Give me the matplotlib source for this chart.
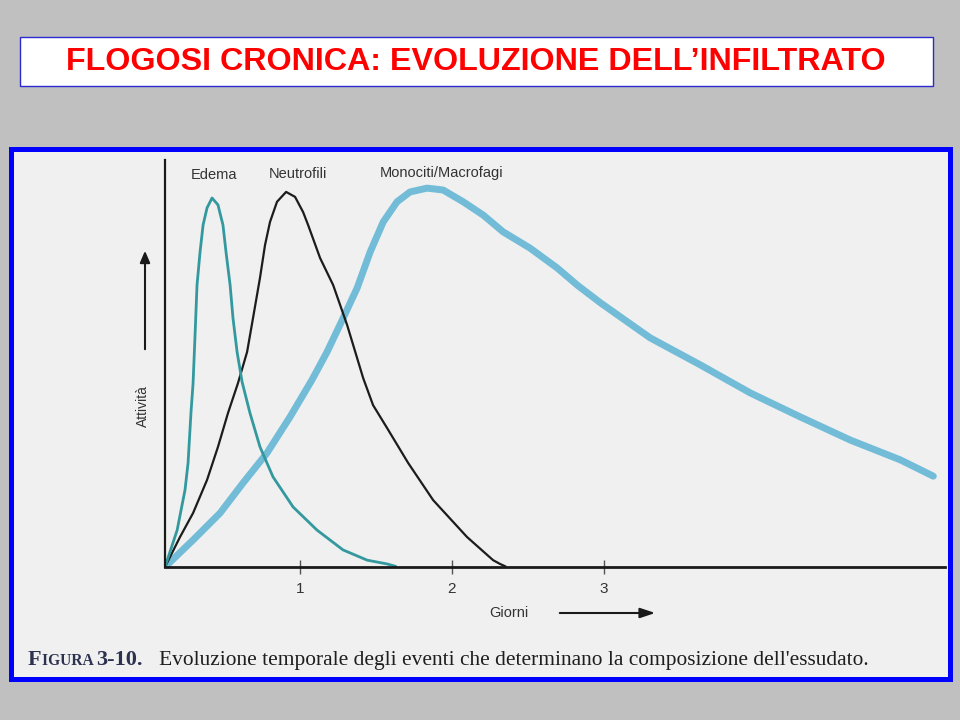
"""
plot.py - Flogosi cronica: evoluzione dell'infiltrato (Edema / Neutrofili / Monociti).
"""
import matplotlib
matplotlib.use("Agg")
import matplotlib.pyplot as plt
from matplotlib.patches import Rectangle, FancyArrowPatch

# valori: x in giorni, y = attività (picco monociti = 1)
EDEMA_X = [0.11, 0.19, 0.242, 0.262, 0.281, 0.295, 0.308, 0.321, 0.341, 0.361,
           0.387, 0.42, 0.459, 0.492, 0.512, 0.539, 0.558, 0.585, 0.618, 0.67,
           0.736, 0.822, 0.954, 1.112, 1.283, 1.442, 1.574, 1.627]
EDEMA_Y = [0.0, 0.097, 0.203, 0.274, 0.405, 0.484, 0.61, 0.742, 0.829, 0.90,
           0.945, 0.971, 0.953, 0.90, 0.829, 0.742, 0.655, 0.566, 0.487, 0.405,
           0.316, 0.237, 0.158, 0.097, 0.045, 0.018, 0.008, 0.002]

NEUTRO_X = [0.11, 0.209, 0.295, 0.387, 0.459, 0.525, 0.591, 0.651, 0.69, 0.736,
            0.769, 0.802, 0.848, 0.908, 0.967, 1.02, 1.053, 1.132, 1.218, 1.31,
            1.416, 1.481, 1.573, 1.712, 1.877, 2.10, 2.272, 2.318, 2.351]
NEUTRO_Y = [0.0, 0.079, 0.142, 0.229, 0.316, 0.405, 0.484, 0.566, 0.655, 0.761,
            0.847, 0.908, 0.961, 0.987, 0.974, 0.934, 0.90, 0.813, 0.742, 0.637,
            0.497, 0.426, 0.366, 0.274, 0.176, 0.079, 0.018, 0.008, 0.002]

MONO_X = [0.11, 0.295, 0.473, 0.624, 0.782, 0.934, 1.078, 1.178, 1.284, 1.376,
          1.462, 1.548, 1.639, 1.725, 1.837, 1.943, 2.075, 2.207, 2.338, 2.516,
          2.694, 2.826, 2.98, 3.307, 3.637, 3.967, 4.296, 4.626, 4.955, 5.173]
MONO_Y = [0.0, 0.071, 0.142, 0.221, 0.30, 0.395, 0.492, 0.566, 0.655, 0.734,
          0.829, 0.908, 0.961, 0.987, 0.997, 0.992, 0.961, 0.926, 0.882, 0.839,
          0.787, 0.742, 0.695, 0.603, 0.532, 0.458, 0.395, 0.334, 0.282, 0.239]

SERIES_NAMES = ["Edema", "Neutrofili", "Monociti/Macrofagi"]
TICKS = [1, 2, 3]
TICK_LABELS = ["1", "2", "3"]

W, H = 960, 720
SLIDE_BG = "#c0c0c0"
PANEL_BG = "#eff0ef"


def fx(px):
    return px / W


def fy(py):
    return 1 - py / H


def chain_text(fig, x, y, parts):
    """Scrive pezzi di testo uno dopo l'altro sulla stessa linea di base."""
    renderer = fig.canvas.get_renderer()
    for s, kw in parts:
        t = fig.text(fx(x), fy(y), s, va="baseline", ha="left", zorder=5, **kw)
        bb = t.get_window_extent(renderer=renderer)
        x += bb.width


def main():
    fig = plt.figure(figsize=(9.6, 7.2), dpi=100)
    fig.patch.set_facecolor(SLIDE_BG)

    # riquadro titolo
    fig.patches.append(Rectangle((fx(20), fy(86)), fx(913), 49 / H,
                                 transform=fig.transFigure, facecolor="white",
                                 edgecolor="#2a2ad0", linewidth=1.0,
                                 zorder=-2))
    fig.text(fx(476), fy(62), "FLOGOSI CRONICA: EVOLUZIONE DELL\u2019INFILTRATO",
             ha="center", va="center", color="#ff0000", fontsize=23.2,
             fontweight="bold", family="Liberation Sans")

    # riquadro della figura
    fig.patches.append(Rectangle((fx(11), fy(679)), fx(939), 530 / H,
                                 transform=fig.transFigure, facecolor=PANEL_BG,
                                 edgecolor="#0000ff", linewidth=3.6,
                                 zorder=-2))

    ax = fig.add_axes([fx(165), fy(567), fx(945 - 165), (567 - 160) / H])
    ax.set_zorder(2)
    ax.patch.set_alpha(0)

    ax.plot(MONO_X, MONO_Y, color="#72bcd8", linewidth=5.0,
            solid_capstyle="round", solid_joinstyle="round")
    ax.plot(NEUTRO_X, NEUTRO_Y, color="#1c1c1c", linewidth=1.6,
            solid_joinstyle="round")
    ax.plot(EDEMA_X, EDEMA_Y, color="#33999f", linewidth=2.0,
            solid_joinstyle="round")

    ax.set_xlim(0.11, 5.25)
    ax.set_ylim(0, 1.071)
    for side in ["top", "right"]:
        ax.spines[side].set_visible(False)
    ax.spines["bottom"].set_linewidth(2.0)
    ax.spines["bottom"].set_color("#1a1a1a")
    ax.spines["left"].set_linewidth(1.6)
    ax.spines["left"].set_color("#1a1a1a")
    ax.set_yticks([])
    ax.set_xticks(TICKS)
    ax.set_xticklabels(TICK_LABELS)
    ax.tick_params(axis="x", direction="inout", length=10, width=1.0,
                   color="#555555", labelsize=11, labelcolor="#333333", pad=6)
    for lab in ax.get_xticklabels():
        lab.set_family("Liberation Sans")

    # etichette delle curve
    lab_kw = dict(ha="center", va="center", fontsize=10.5, color="#333333",
                  family="Liberation Sans")
    fig.text(fx(214), fy(175), SERIES_NAMES[0], **lab_kw)
    fig.text(fx(298), fy(174), SERIES_NAMES[1], **lab_kw)
    fig.text(fx(442), fy(173), SERIES_NAMES[2], **lab_kw)

    # asse y: Attività con freccia
    fig.text(fx(143), fy(406), "Attività", rotation=90, ha="center",
             va="center", fontsize=10, color="#333333",
             family="Liberation Sans")
    fig.patches.append(FancyArrowPatch(
        (fx(145), fy(352)), (fx(145), fy(248)), transform=fig.transFigure,
        arrowstyle="-|>,head_length=7,head_width=3", color="#1a1a1a",
        linewidth=1.5, mutation_scale=1))

    # asse x: Giorni con freccia
    fig.text(fx(509), fy(613), "Giorni", ha="center", va="center",
             fontsize=10.5, color="#333333", family="Liberation Sans")
    fig.patches.append(FancyArrowPatch(
        (fx(557), fy(613)), (fx(658), fy(613)), transform=fig.transFigure,
        arrowstyle="-|>,head_length=9,head_width=3", color="#1a1a1a",
        linewidth=1.5, mutation_scale=1))

    # didascalia
    cap = "#2d3150"
    serif = "Liberation Serif"
    chain_text(fig, 28, 665, [
        ("F", dict(fontsize=16, color=cap, family=serif, fontweight="bold")),
        ("IGURA ", dict(fontsize=11.2, color=cap, family=serif,
                        fontweight="bold")),
        ("3-10.", dict(fontsize=16, color=cap, family=serif,
                       fontweight="bold")),
        ("   Evoluzione temporale degli eventi che determinano la "
         "composizione dell'essudato.",
         dict(fontsize=15.4, color="#1e1e1e", family=serif)),
    ])

    fig.savefig("out.png", dpi=100, facecolor=fig.get_facecolor())


if __name__ == "__main__":
    main()
